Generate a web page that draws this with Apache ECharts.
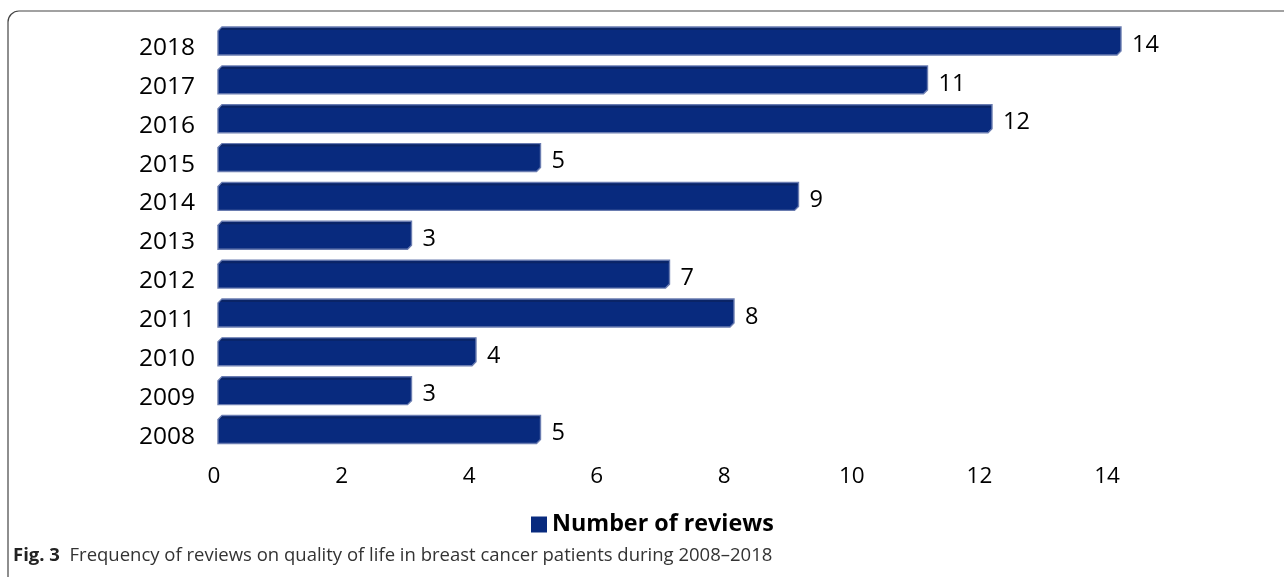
<!DOCTYPE html>
<html><head><meta charset="utf-8">
<script src="https://cdn.jsdelivr.net/npm/echarts@6/dist/echarts.min.js"></script>
<style>html,body{margin:0;padding:0;background:#fff}#c{width:1284px;height:577px}</style>
</head><body><div id="c"></div>
<script>
const years = ['2008','2009','2010','2011','2012','2013','2014','2015','2016','2017','2018'];
const reviews = [5, 3, 4, 8, 7, 3, 9, 5, 12, 11, 14];
const xTicks = [0, 2, 4, 6, 8, 10, 12, 14];
const seriesName = 'Number of reviews';
const captionBold = 'Fig. 3';
const captionText = 'Frequency of reviews on quality of life in breast cancer patients during 2008\u20132018';

const FONT = '"Open Sans", "Noto Sans", sans-serif';
const chart = echarts.init(document.getElementById('c'), null, {renderer: 'canvas'});

function renderBar(params, api) {
  const cat = api.value(0);
  const v = api.value(1);
  const p0 = api.coord([0, cat]);
  const p1 = api.coord([v, cat]);
  const bw = api.size([0, 1])[1] * 0.72;
  const x0 = p0[0], x1 = p1[0];
  const y0 = p0[1] - bw / 2, y1 = p0[1] + bw / 2;
  const c = 4;
  return {
    type: 'group',
    children: [
      {
        type: 'polygon',
        shape: {points: [[x0 + c, y0], [x1, y0], [x1, y1 - c], [x1 - c, y1], [x0, y1], [x0, y0 + c]]},
        style: {fill: '#082a7e', stroke: '#6a7cb0', lineWidth: 1.4}
      },
      {
        type: 'polygon',
        shape: {points: [[x0 + c, y0 + 1], [x1 - 1, y0 + 1], [x1 - 1, y0 + 3], [x0 + 2, y0 + 3]]},
        style: {fill: '#0a2466'}
      },
      {
        type: 'text',
        x: x1 + 11, y: p0[1] + 4,
        style: {text: String(v), font: '23.5px ' + FONT, fill: '#000', verticalAlign: 'middle', align: 'left'}
      }
    ]
  };
}

chart.setOption({
  animation: false,
  backgroundColor: '#fff',
  grid: [
    {left: 218, width: 903, top: 21.6, height: 427.35},
    {left: 214, width: 893, top: 28.6, height: 427.35}
  ],
  xAxis: [
    {gridIndex: 0, type: 'value', min: 0, max: 14, show: false},
    {gridIndex: 1, type: 'value', min: 0, max: 14, interval: 2,
      axisLine: {show: false}, axisTick: {show: false}, splitLine: {show: false},
      axisLabel: {fontSize: 22.5, fontFamily: FONT, color: '#000', margin: 9,
        formatter: v => xTicks.indexOf(v) >= 0 ? String(v) : ''}}
  ],
  yAxis: [
    {gridIndex: 0, type: 'category', data: years, show: false},
    {gridIndex: 1, type: 'category', data: years,
      axisLine: {show: false}, axisTick: {show: false},
      axisLabel: {fontSize: 24.5, fontFamily: FONT, color: '#000', margin: 19}}
  ],
  legend: {
    data: [{name: seriesName, icon: 'rect'}],
    left: 526, top: 508,
    itemWidth: 16, itemHeight: 16, itemGap: 8,
    textStyle: {fontSize: 23.3, fontWeight: 'bold', fontFamily: FONT, color: '#000'}
  },
  series: [{
    name: seriesName,
    type: 'custom',
    xAxisIndex: 0, yAxisIndex: 0,
    itemStyle: {color: '#082a7e'},
    encode: {x: 1, y: 0},
    data: reviews.map((v, i) => [i, v]),
    renderItem: renderBar
  }],
  graphic: [
    {
      type: 'rect',
      shape: {x: 8, y: 11, width: 1400, height: 700, r: [11, 0, 0, 0]},
      style: {fill: 'none', stroke: '#444', lineWidth: 1.2},
      silent: true
    },
    {
      type: 'text', left: 13, top: 546,
      style: {
        text: '{b|' + captionBold + '}  ' + captionText,
        font: '18.5px ' + FONT, fill: '#333',
        rich: {b: {fontWeight: 'bold', fontSize: 18.5, fontFamily: FONT, fill: '#222'}}
      }
    }
  ]
});
</script></body></html>
